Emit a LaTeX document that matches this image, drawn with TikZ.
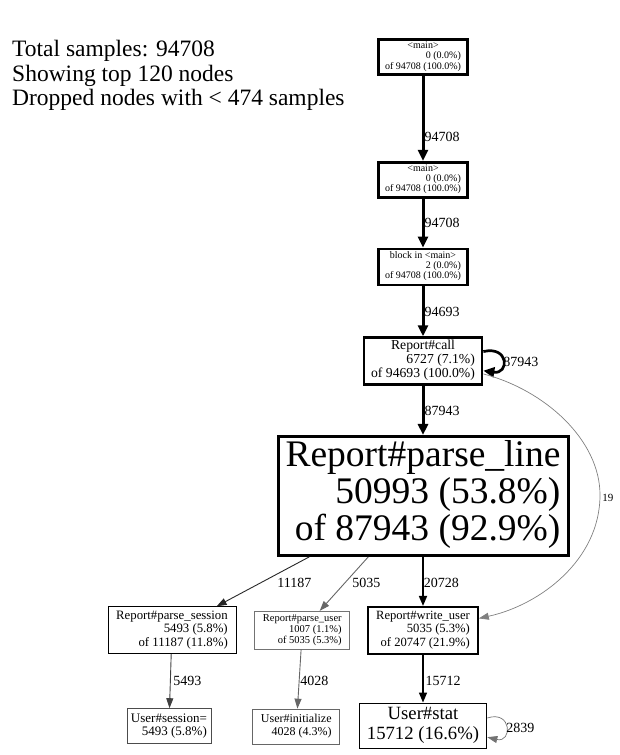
\documentclass[tikz,border=0pt]{standalone}
\usepackage{fontspec}
\setmainfont{Liberation Serif}
\usetikzlibrary{positioning,arrows.meta}

\newcommand\plabel[2]{\begin{tabular}{@{}r@{}}\multicolumn{1}{@{}c@{}}{#1}\\#2\end{tabular}}
\newcommand\fsz[2]{\fontsize{#1}{#2}\selectfont}

\begin{document}
\begin{tikzpicture}
[x=1pt, y=-1pt,
    every node/.style={inner sep=0pt},
    fnode/.style={rectangle, draw=black, align=center},
    hot/.style={fnode, line width=2.7pt},
    warm/.style={fnode, line width=1.6pt},
    cold/.style={fnode, line width=0.9pt},
    elab/.style={anchor=west, font=\fsz{14}{14}},
    bigedge/.style={draw=black, line width=3pt, -{Triangle[length=11pt,width=10pt]}},
    midedge/.style={draw=black, line width=1.7pt, -{Triangle[length=10pt,width=8pt]}},
    thinedge/.style={line width=0.9pt, -{Triangle[length=10pt,width=7pt]}}
    ]

    \useasboundingbox (0,0) rectangle (619,755);

    % legend
    \node [anchor=north west, align=left, font=\fsz{23.5}{24.5}] (legend) at (12,40)
        {Total samples: 94708\\Showing top 120 nodes\\Dropped nodes with < 474 samples};

    % call chain
    \node [hot, minimum width=89pt, minimum height=35pt, font=\fsz{10}{10}] (main1) at (423,57)
        {\plabel{<main>}{0 (0.0\%)\\of 94708 (100.0\%)}};
    \node [hot, minimum width=89pt, minimum height=35pt, font=\fsz{10}{10}, below=85pt of main1] (main2)
        {\plabel{<main>}{0 (0.0\%)\\of 94708 (100.0\%)}};
    \node [hot, minimum width=89pt, minimum height=36pt, font=\fsz{10}{10}, below=49pt of main2] (blockmain)
        {\plabel{block in <main>}{2 (0.0\%)\\of 94708 (100.0\%)}};
    \node [hot, minimum width=118pt, minimum height=47pt, font=\fsz{13.7}{14}, below=50pt of blockmain] (call)
        {\plabel{Report\#call}{6727 (7.1\%)\\of 94693 (100.0\%)}};
    \node [hot, line width=3pt, minimum width=290pt, minimum height=119pt, font=\fsz{37.5}{35.5}, below=49pt of call] (parseline)
        {\raisebox{-3pt}{\plabel{Report\#parse\_line}{50993 (53.8\%)\\of 87943 (92.9\%)}}};

    % callees
    \node [warm, minimum width=110pt, minimum height=47pt, font=\fsz{12.6}{13.5}, below=49pt of parseline] (writeuser)
        {\plabel{Report\#write\_user}{5035 (5.3\%)\\of 20747 (21.9\%)}};
    \node [cold, draw=black!55, line width=0.8pt, minimum width=95pt, minimum height=38pt, font=\fsz{10.5}{11}, left=17pt of writeuser] (parseuser)
        {\plabel{Report\#parse\_user}{1007 (1.1\%)\\of 5035 (5.3\%)}};
    \node [cold, minimum width=128pt, minimum height=47pt, font=\fsz{12.8}{13.5}, left=18pt of parseuser] (parsesession)
        {\plabel{Report\#parse\_session}{5493 (5.8\%)\\of 11187 (11.8\%)}};
    \node [warm, minimum width=127pt, minimum height=45pt, font=\fsz{18.7}{20}, below=48pt of writeuser] (stat)
        {\plabel{User\#stat}{15712 (16.6\%)}};
    \node [cold, draw=black!60, minimum width=87pt, minimum height=35pt, font=\fsz{12}{12.5}, below=59pt of parseuser, xshift=-6pt] (initialize)
        {\plabel{User\#initialize}{4028 (4.3\%)}};
    \node [cold, draw=black!70, minimum width=84pt, minimum height=35pt, font=\fsz{13}{13.5}, below=54pt of parsesession, xshift=-3pt] (sessionset)
        {\plabel{User\#session=}{5493 (5.8\%)}};

    % edges
    \draw [bigedge] (main1) -- (main2) node [elab] at (423,137) {94708};
    \draw [bigedge] (main2) -- (blockmain) node [elab] at (423,223) {94708};
    \draw [bigedge] (blockmain) -- (call) node [elab] at (423,312) {94693};
    \draw [bigedge] (call) -- (parseline) node [elab] at (423,411) {87943};
    \draw [bigedge, line width=2.7pt] (call.9) .. controls +(26,-6) and +(26,4) .. (call.-9)
        node [elab] at (502,362) {87943};
    \draw [thinedge, draw=black!50, line width=0.7pt] (call.-12) .. controls (545,390) and (600,440) .. (600,495)
        .. controls (600,560) and (540,605) .. (writeuser.12)
        node [elab, font=\fsz{11}{11}] at (602,498) {19};
    \draw [midedge] (parseline) -- (writeuser) node [elab] at (423,583) {20728};
    \draw [thinedge, draw=black!85] (parseline) -- (parsesession) node [elab] at (277,583) {11187};
    \draw [thinedge, draw=black!60] (parseline) -- (parseuser) node [elab] at (352,583) {5035};
    \draw [thinedge, draw=black!75] (parsesession) -- (sessionset) node [elab] at (173,681) {5493};
    \draw [thinedge, draw=black!60] (parseuser) -- (initialize) node [elab] at (300,681) {4028};
    \draw [midedge, line width=1.4pt] (writeuser) -- (stat) node [elab] at (425,681) {15712};
    \draw [thinedge, draw=black!55, line width=0.7pt] (stat.7) .. controls +(25,-8) and +(25,6) .. (stat.-10)
        node [elab] at (506,728) {2839};
\end{tikzpicture}
\end{document}
